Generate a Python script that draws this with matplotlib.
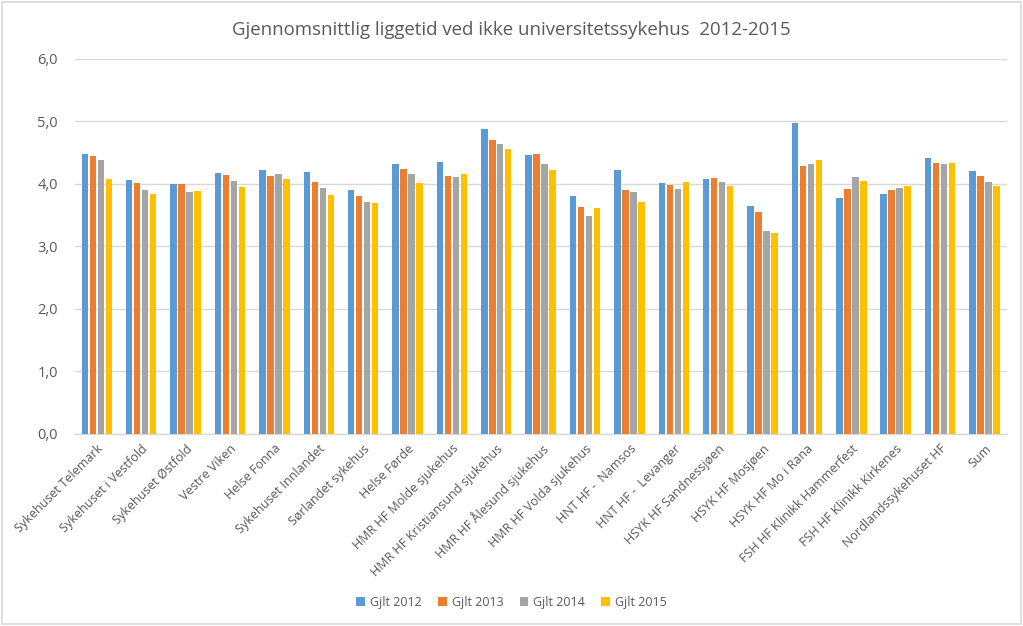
import matplotlib
matplotlib.use("Agg")
import matplotlib.pyplot as plt
import numpy as np
from matplotlib.patches import Rectangle

categories = [
    "Sykehuset Telemark", "Sykehuset i Vestfold", "Sykehuset Østfold", "Vestre Viken",
    "Helse Fonna", "Sykehuset Innlandet", "Sørlandet sykehus", "Helse Førde",
    "HMR HF Molde sjukehus", "HMR HF Kristiansund sjukehus", "HMR HF Ålesund sjukehus",
    "HMR HF Volda sjukehus", "HNT HF -  Namsos", "HNT HF -  Levanger",
    "HSYK HF Sandnessjøen", "HSYK HF Mosjøen", "HSYK HF Mo i Rana",
    "FSH HF Klinikk Hammerfest", "FSH HF Klinikk Kirkenes", "Nordlandssykehuset HF", "Sum",
]
series_names = ["Gjlt 2012", "Gjlt 2013", "Gjlt 2014", "Gjlt 2015"]
gjlt_2012 = [4.48, 4.06, 4.00, 4.18, 4.22, 4.19, 3.90, 4.32, 4.35, 4.88, 4.46,
             3.80, 4.22, 4.02, 4.08, 3.65, 4.97, 3.77, 3.84, 4.42, 4.20]
gjlt_2013 = [4.44, 4.02, 4.00, 4.14, 4.12, 4.03, 3.80, 4.24, 4.13, 4.70, 4.48,
             3.63, 3.90, 3.98, 4.10, 3.55, 4.29, 3.91, 3.90, 4.34, 4.12]
gjlt_2014 = [4.38, 3.90, 3.87, 4.05, 4.16, 3.94, 3.71, 4.15, 4.11, 4.63, 4.32,
             3.49, 3.87, 3.92, 4.03, 3.24, 4.31, 4.11, 3.94, 4.31, 4.03]
gjlt_2015 = [4.08, 3.84, 3.89, 3.95, 4.07, 3.82, 3.69, 4.02, 4.16, 4.55, 4.22,
             3.62, 3.71, 4.03, 3.97, 3.22, 4.38, 4.05, 3.96, 4.34, 3.96]
yticks = [0, 1, 2, 3, 4, 5, 6]
ytick_labels = ["0,0", "1,0", "2,0", "3,0", "4,0", "5,0", "6,0"]
title = "Gjennomsnittlig liggetid ved ikke universitetssykehus  2012-2015"

colors = ["#5B9BD5", "#ED7D31", "#A5A5A5", "#FFC000"]
txt = "#595959"
grid = "#D9D9D9"
font = ["Open Sans", "DejaVu Sans"]
plt.rcParams["font.family"] = font

fig = plt.figure(figsize=(10.23, 6.26), dpi=100)
ax = fig.add_axes([0.073, 0.307, 0.911, 0.599])

x = np.arange(len(categories))
pitch = 0.18
width = 0.145
all_series = [gjlt_2012, gjlt_2013, gjlt_2014, gjlt_2015]
for i, (vals, name, c) in enumerate(zip(all_series, series_names, colors)):
    ax.bar(x + (i - 1.5) * pitch, vals, width=width, color=c, label=name, zorder=3)

ax.set_xlim(-0.5, len(categories) - 0.5)
ax.set_ylim(0, 6)
ax.set_yticks(yticks)
ax.set_yticklabels(ytick_labels, color=txt, fontsize=10.5)
ax.set_xticks(x)
ax.set_xticklabels(categories, rotation=45, ha="right", rotation_mode="anchor",
                   color=txt, fontsize=9)
ax.tick_params(axis="both", length=0)
ax.tick_params(axis="y", pad=12)
ax.tick_params(axis="x", pad=6)
ax.grid(axis="y", color=grid, linewidth=1, zorder=0)
for s in ["top", "right", "left"]:
    ax.spines[s].set_visible(False)
ax.spines["bottom"].set_color(grid)
ax.spines["bottom"].set_linewidth(1)

fig.text(0.5, 0.952, title, ha="center", va="center", color=txt, fontsize=13.4)

leg = fig.legend(loc="center", bbox_to_anchor=(0.5, 0.038), ncol=4, frameon=False,
                 fontsize=9, handlelength=0.7, handleheight=0.7, handletextpad=0.4,
                 columnspacing=1.3)
for t in leg.get_texts():
    t.set_color(txt)

fig.patches.append(Rectangle((0.002, 0.003), 0.996, 0.994, transform=fig.transFigure,
                             fill=False, edgecolor=grid, linewidth=1.2))

fig.savefig("out.png", dpi=100, facecolor="white")
